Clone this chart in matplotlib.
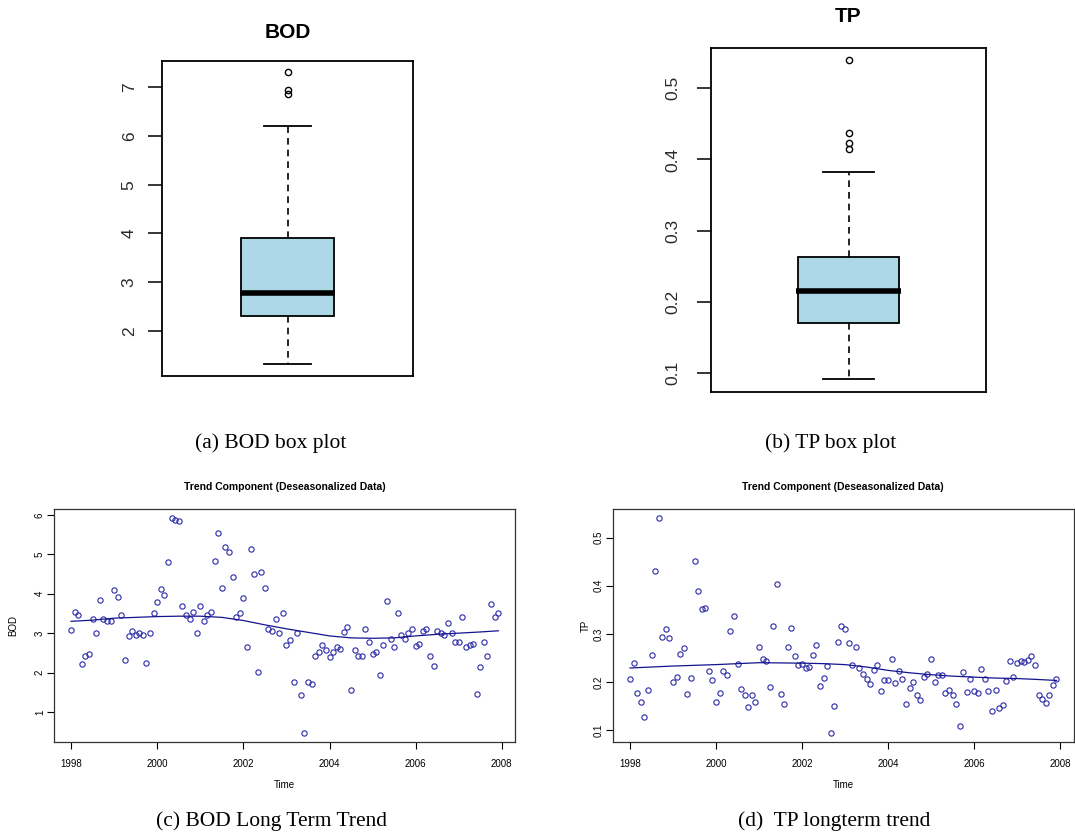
import numpy as np
import matplotlib
matplotlib.use("Agg")
import matplotlib.pyplot as plt

plt.rcParams['font.family'] = ['Liberation Sans', 'DejaVu Sans']

# ---------------- data ----------------
# box plot statistics
bod_box = dict(whislo=1.31, q1=2.30, med=2.77, q3=3.90, whishi=6.20)
bod_fliers = [7.31, 6.95, 6.87]
tp_box = dict(whislo=0.092, q1=0.171, med=0.216, q3=0.263, whishi=0.382)
tp_fliers = [0.539, 0.437, 0.423, 0.415]

bod_yticks = [2, 3, 4, 5, 6, 7]
tp_yticks = [0.1, 0.2, 0.3, 0.4, 0.5]

# monthly deseasonalised series, start 1998, frequency 12
ts_start = 1998.0
ts_freq = 12

bod_values = [
    3.08, 3.53, 3.45, 2.21, 2.41, 2.47, 3.35, 3.00, 3.84, 3.36, 3.32, 3.30,
    4.09, 3.92, 3.45, 2.31, 2.92, 3.05, 2.95, 3.00, 2.95, 2.24, 3.00, 3.50,
    3.79, 4.12, 3.97, 4.81, 5.92, 5.87, 5.85, 3.69, 3.45, 3.35, 3.53, 3.00,
    3.69, 3.32, 3.45, 3.53, 4.83, 5.54, 4.14, 5.19, 5.05, 4.43, 3.42, 3.50,
    3.89, 2.64, 5.14, 4.51, 2.01, 4.56, 4.14, 3.10, 3.06, 3.35, 3.00, 3.50,
    2.69, 2.83, 1.75, 3.00, 1.42, 0.46, 1.75, 1.70, 2.43, 2.53, 2.70, 2.58,
    2.39, 2.53, 2.66, 2.61, 3.03, 3.15, 1.55, 2.58, 2.43, 2.43, 3.10, 2.78,
    2.48, 2.53, 1.94, 2.70, 3.81, 2.86, 2.64, 3.50, 2.95, 2.86, 3.00, 3.10,
    2.68, 2.73, 3.05, 3.10, 2.42, 2.16, 3.05, 3.00, 2.95, 3.25, 3.00, 2.78,
    2.78, 3.42, 2.65, 2.70, 2.73, 1.45, 2.14, 2.78, 2.43, 3.74, 3.42, 3.50,
]

tp_values = [
    0.207, 0.239, 0.177, 0.158, 0.127, 0.183, 0.256, 0.430, 0.541, 0.294, 0.310, 0.292,
    0.199, 0.211, 0.258, 0.270, 0.175, 0.209, 0.452, 0.390, 0.351, 0.353, 0.223, 0.203,
    0.158, 0.177, 0.223, 0.215, 0.306, 0.337, 0.237, 0.185, 0.173, 0.148, 0.173, 0.158,
    0.272, 0.248, 0.244, 0.189, 0.317, 0.404, 0.175, 0.154, 0.273, 0.313, 0.253, 0.235,
    0.237, 0.229, 0.231, 0.255, 0.276, 0.191, 0.209, 0.233, 0.093, 0.150, 0.284, 0.317,
    0.310, 0.280, 0.235, 0.272, 0.229, 0.217, 0.207, 0.195, 0.225, 0.235, 0.181, 0.205,
    0.203, 0.248, 0.197, 0.223, 0.207, 0.154, 0.187, 0.199, 0.173, 0.162, 0.211, 0.217,
    0.248, 0.199, 0.215, 0.215, 0.177, 0.183, 0.173, 0.154, 0.109, 0.221, 0.179, 0.207,
    0.181, 0.177, 0.227, 0.207, 0.181, 0.140, 0.183, 0.146, 0.152, 0.201, 0.244, 0.211,
    0.239, 0.244, 0.242, 0.246, 0.253, 0.235, 0.173, 0.164, 0.156, 0.173, 0.193, 0.207,
]

bod_trend_t = [1998.0, 1998.5, 1999.0, 1999.5, 2000.0, 2000.5, 2001.0, 2001.5, 2002.0,
               2002.5, 2003.0, 2003.5, 2004.0, 2004.5, 2005.0, 2005.5, 2006.0, 2006.5,
               2007.0, 2007.5, 2007.92]
bod_trend_v = [3.30, 3.33, 3.38, 3.40, 3.42, 3.43, 3.43, 3.40, 3.32, 3.21, 3.11, 3.02,
               2.93, 2.88, 2.87, 2.88, 2.93, 2.97, 3.00, 3.03, 3.06]

tp_trend_t = [1998.0, 1999.0, 2000.0, 2001.0, 2002.0, 2002.5, 2003.0, 2003.5, 2004.0,
              2004.5, 2005.0, 2005.5, 2006.0, 2006.5, 2007.0, 2007.5, 2007.92]
tp_trend_v = [0.229, 0.233, 0.236, 0.240, 0.239, 0.238, 0.236, 0.231, 0.224, 0.219,
              0.215, 0.212, 0.210, 0.208, 0.207, 0.205, 0.203]

year_ticks = [1998, 2000, 2002, 2004, 2006, 2008]
bod_sc_yticks = [1, 2, 3, 4, 5, 6]
tp_sc_yticks = [0.1, 0.2, 0.3, 0.4, 0.5]

titles_box = ["BOD", "TP"]
title_trend = "Trend Component (Deseasonalized Data)"
captions = ["(a) BOD box plot", "(b) TP box plot",
            "(c) BOD Long Term Trend", "(d)  TP longterm trend"]

# ---------------- layout helpers ----------------
W, H = 1075, 834
fig = plt.figure(figsize=(W / 100, H / 100), dpi=100)


def px_axes(left, top, right, bottom):
    return fig.add_axes([left / W, 1 - bottom / H, (right - left) / W, (bottom - top) / H])


def r_range(vals, frac=0.04):
    lo, hi = min(vals), max(vals)
    d = (hi - lo) * frac
    return lo - d, hi + d


def draw_box(ax, stats, fliers, yticks, tick_pad):
    st = dict(stats)
    st['fliers'] = fliers
    ax.bxp([st], positions=[1], widths=0.4, patch_artist=True, showfliers=True,
           boxprops=dict(facecolor='#ADD8E6', edgecolor='black', linewidth=1.3),
           medianprops=dict(color='none'),
           whiskerprops=dict(color='black', linewidth=1.2, linestyle=(0, (4, 3))),
           capprops=dict(color='black', linewidth=1.3),
           capwidths=0.2,
           flierprops=dict(marker='o', markersize=4.5, markerfacecolor='none',
                           markeredgecolor='black', markeredgewidth=1.0))
    # thick median bar, slightly wider than the box (R style)
    ax.hlines(stats['med'], 1 - 0.205, 1 + 0.205, color='black', linewidth=4.0, zorder=5)
    ax.set_xlim(0.46, 1.54)
    ax.set_ylim(*r_range([stats['whislo'], stats['whishi']] + fliers))
    ax.set_xticks([])
    ax.set_yticks(yticks)
    ax.set_yticklabels([f"{v:g}" for v in yticks], rotation=90, va='center',
                       fontsize=12.5, color='#2a2a2a')
    ax.tick_params(axis='y', length=10, width=1.1, pad=tick_pad, direction='out')
    for s in ax.spines.values():
        s.set_linewidth(1.3)


# ---------------- box plots ----------------
ax1 = px_axes(161.7, 60.7, 413.3, 376)
draw_box(ax1, bod_box, bod_fliers, bod_yticks, 8)
fig.text(287.5 / W, 1 - 33 / H, titles_box[0], ha='center', va='center',
         fontsize=15, fontweight='bold')

ax2 = px_axes(711.3, 47.7, 985.7, 391.7)
draw_box(ax2, tp_box, tp_fliers, tp_yticks, 12)
fig.text(848.5 / W, 1 - 17 / H, titles_box[1], ha='center', va='center',
         fontsize=15, fontweight='bold')

# ---------------- trend scatter plots ----------------
pt_color = '#2b2ba8'
ln_color = '#14148f'


def draw_trend(ax, values, tt, tv, yticks, ylabel, ylabelpad):
    t = ts_start + np.arange(len(values)) / ts_freq
    ax.plot(t, values, linestyle='none', marker='o', markersize=3.8,
            markerfacecolor='none', markeredgecolor=pt_color, markeredgewidth=0.8)
    ax.plot(tt, tv, color=ln_color, linewidth=0.9)
    ax.set_xlim(*r_range(list(t)))
    ax.set_ylim(*r_range(values))
    ax.set_xticks(year_ticks)
    ax.set_xticklabels([str(y) for y in year_ticks], fontsize=7)
    ax.set_yticks(yticks)
    ax.set_yticklabels([f"{v:g}" for v in yticks], rotation=90, va='center', fontsize=7)
    ax.tick_params(axis='x', length=5, width=0.8, pad=7, direction='out')
    ax.tick_params(axis='y', length=5, width=0.8, pad=1.5, direction='out')
    for s in ax.spines.values():
        s.set_linewidth(0.9)
        s.set_color('#333333')
    ax.set_xlabel("Time", fontsize=7, labelpad=8)
    ax.set_ylabel(ylabel, fontsize=7, labelpad=ylabelpad)
    ax.set_title(title_trend, fontsize=7.5, fontweight='bold', pad=14)


ax3 = px_axes(54, 509.3, 515.3, 742)
draw_trend(ax3, bod_values, bod_trend_t, bod_trend_v, bod_sc_yticks, "BOD", 12)

ax4 = px_axes(613, 509.3, 1073.5, 742)
draw_trend(ax4, tp_values, tp_trend_t, tp_trend_v, tp_sc_yticks, "TP", 2)

# ---------------- captions ----------------
cap_pos = [(271, 443), (831, 443), (272, 821), (834, 821)]
for txt, (cx, cy) in zip(captions, cap_pos):
    fig.text(cx / W, 1 - cy / H, txt, ha='center', va='center',
             fontsize=15.5, family=['Liberation Serif', 'DejaVu Serif'])

fig.savefig("out.png", dpi=100, facecolor='white')
